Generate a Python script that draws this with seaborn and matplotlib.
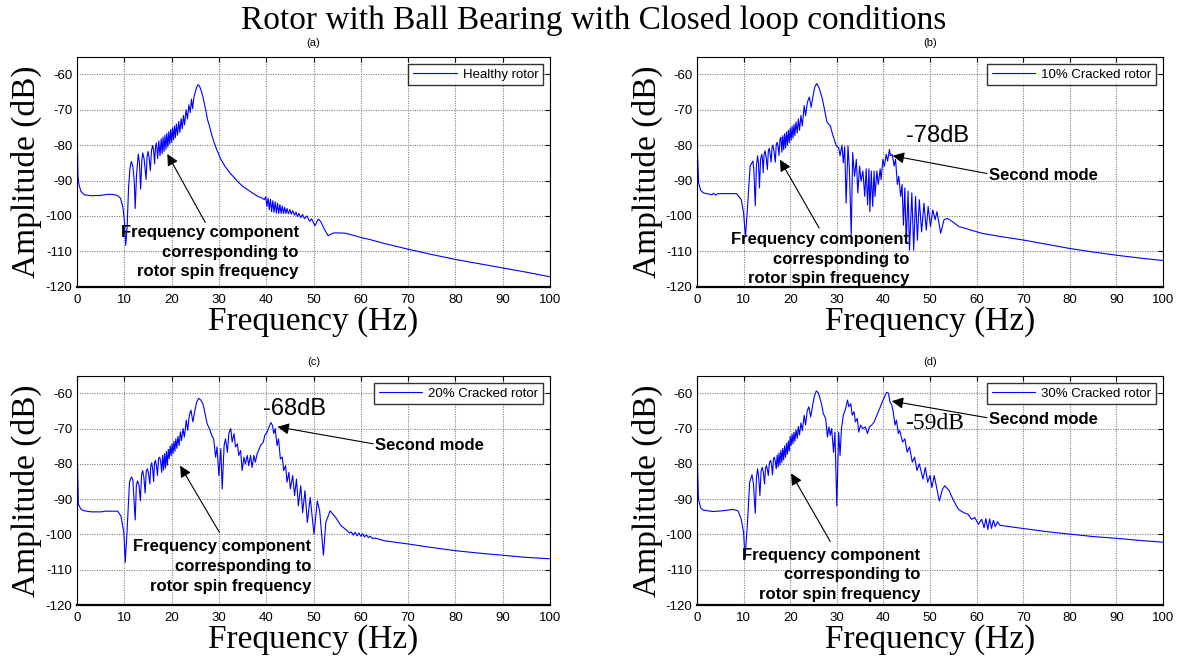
import matplotlib
matplotlib.use("Agg")
import matplotlib.pyplot as plt
import seaborn as sns
import pandas as pd

# ---------------------------------------------------------------
# Spectra (frequency in Hz, amplitude in dB) for each rotor state
# ---------------------------------------------------------------
healthy_rotor = [
    (0.0, -54.0), (0.08, -80.0), (0.2, -88.5), (0.4, -91.0), (0.8, -93.0), (1.5, -94.0),
    (3.0, -94.3), (5.0, -94.2), (6.5, -93.9), (7.5, -93.9), (8.5, -94.2), (9.2, -95.0),
    (9.7, -97.5), (10.0, -101.0), (10.3, -108.3), (10.6, -103.0), (10.9, -92.0), (11.2, -86.5),
    (11.5, -84.6), (11.8, -86.0), (12.1, -90.0), (12.3, -97.9), (12.6, -88.0), (12.96, -82.5),
    (13.2, -85.0), (13.45, -92.4), (13.7, -84.5), (13.9, -82.2), (14.2, -84.0), (14.6, -89.7),
    (14.8, -83.5), (15.0, -81.8), (15.25, -83.5), (15.5, -87.2), (15.75, -81.5), (16.0, -80.1),
    (16.2, -81.5), (16.4, -85.3), (16.6, -80.3), (16.8, -79.4), (17.05, -83.8), (17.3, -78.8),
    (17.55, -83.0), (17.8, -78.2), (18.0, -82.4), (18.2, -77.7), (18.4, -81.8), (18.6, -77.2),
    (18.8, -81.2), (19.0, -76.7), (19.2, -80.5), (19.4, -76.2), (19.6, -79.8), (19.8, -75.6),
    (20.0, -79.2), (20.2, -75.1), (20.4, -78.5), (20.6, -74.6), (20.8, -77.9), (21.0, -74.0),
    (21.25, -77.2), (21.5, -73.3), (21.75, -76.4), (22.0, -72.5), (22.25, -75.4), (22.5, -71.6),
    (22.75, -74.3), (23.05, -70.0), (23.35, -72.6), (23.65, -68.6), (23.95, -70.8), (24.2, -67.0),
    (24.45, -69.7), (24.7, -66.5), (25.0, -65.0), (25.3, -63.6), (25.6, -62.9), (25.9, -63.3),
    (26.3, -64.8), (26.7, -66.8), (27.2, -70.0), (27.6, -72.8), (28.0, -74.6), (28.5, -77.2),
    (29.0, -79.3), (29.7, -81.8), (30.5, -84.2), (31.4, -86.2), (32.3, -87.8), (33.2, -89.1),
    (34.2, -90.6), (35.2, -91.8), (36.3, -92.8), (37.3, -93.7), (38.3, -94.5), (39.2, -95.0),
    (39.6, -95.4), (39.9, -94.6), (40.15, -97.3), (40.4, -95.0), (40.65, -98.3), (40.9, -95.3),
    (41.15, -98.8), (41.4, -95.7), (41.65, -99.0), (41.9, -96.0), (42.15, -99.2), (42.4, -96.4),
    (42.65, -99.3), (42.9, -96.8), (43.15, -99.3), (43.4, -97.2), (43.65, -99.3), (43.9, -97.6),
    (44.15, -99.3), (44.4, -97.9), (44.7, -99.4), (45.0, -98.2), (45.3, -99.5), (45.6, -98.5),
    (46.0, -99.8), (46.3, -98.9), (46.6, -100.2), (46.9, -99.3), (47.3, -100.5), (47.7, -99.6),
    (48.1, -100.8), (48.6, -100.0), (49.2, -101.5), (49.6, -100.8), (50.3, -102.8), (51.0, -100.9),
    (51.5, -101.5), (52.2, -103.5), (53.1, -105.6), (53.6, -105.2), (54.3, -104.8), (55.5, -104.8),
    (56.8, -104.9), (58.5, -105.5), (60.0, -106.1), (61.7, -106.6), (65.0, -107.8), (70.0, -109.4),
    (75.0, -110.9), (80.0, -112.3), (85.0, -113.5), (90.0, -114.7), (95.0, -115.9), (100.0, -117.2),
]

cracked_10 = [
    (0.0, -54.0), (0.1, -82.0), (0.35, -90.7), (0.8, -92.8), (1.4, -93.5), (2.5, -93.8),
    (3.2, -94.0), (3.6, -93.6), (4.0, -94.1), (4.5, -93.7), (6.0, -93.7), (8.5, -93.7),
    (9.5, -95.4), (10.0, -99.2), (10.4, -105.9), (10.9, -96.4), (11.4, -85.9), (12.0, -84.5),
    (12.2, -87.0), (12.5, -97.1), (12.75, -86.0), (13.0, -83.0), (13.2, -85.0), (13.4, -92.1),
    (13.65, -84.0), (13.9, -82.6), (14.05, -84.0), (14.2, -87.8), (14.4, -82.5), (14.6, -81.6),
    (14.85, -83.5), (15.1, -86.9), (15.3, -81.8), (15.5, -80.9), (15.7, -82.5), (15.9, -84.8),
    (16.1, -80.8), (16.3, -80.0), (16.55, -82.0), (16.8, -84.8), (17.0, -79.9), (17.2, -79.2),
    (17.4, -80.5), (17.6, -82.9), (17.8, -78.4), (18.0, -77.8), (18.2, -82.0), (18.4, -77.3),
    (18.6, -81.3), (18.8, -76.8), (19.0, -80.8), (19.2, -76.3), (19.4, -80.0), (19.6, -75.8),
    (19.8, -79.3), (20.0, -75.2), (20.2, -78.6), (20.4, -74.7), (20.6, -78.0), (20.8, -74.1),
    (21.0, -77.3), (21.25, -73.4), (21.5, -76.6), (21.75, -72.6), (22.0, -75.8), (22.3, -71.6),
    (22.6, -74.6), (23.0, -68.8), (23.3, -71.7), (23.7, -67.8), (24.1, -66.4), (24.5, -69.3),
    (24.9, -66.0), (25.3, -63.5), (25.7, -62.6), (26.2, -63.8), (26.9, -66.9), (27.4, -70.2),
    (27.9, -73.5), (28.3, -74.2), (28.6, -74.5), (29.0, -76.5), (29.3, -77.8), (29.9, -80.2),
    (30.4, -80.7), (30.7, -83.0), (31.1, -80.0), (31.4, -85.0), (31.7, -80.4), (32.0, -96.4),
    (32.4, -80.2), (32.7, -86.9), (33.1, -105.4), (33.4, -82.1), (33.8, -88.8), (34.2, -84.0),
    (34.5, -93.5), (34.9, -85.9), (35.2, -90.2), (35.6, -87.3), (36.0, -94.5), (36.3, -86.7),
    (36.6, -96.9), (36.9, -86.7), (37.1, -98.8), (37.4, -87.3), (37.7, -97.3), (38.0, -87.3),
    (38.2, -94.5), (38.6, -87.3), (38.9, -91.1), (39.3, -86.7), (39.5, -89.7), (39.9, -84.0),
    (40.2, -86.0), (40.6, -82.6), (40.9, -84.5), (41.3, -81.2), (41.5, -83.0), (41.9, -82.6),
    (42.3, -85.9), (42.6, -84.0), (43.0, -91.1), (43.3, -88.8), (43.7, -94.5), (44.0, -91.1),
    (44.3, -102.6), (44.6, -92.1), (44.9, -107.8), (45.3, -93.0), (45.6, -109.7), (46.1, -93.5),
    (46.5, -109.7), (46.9, -94.5), (47.3, -106.9), (47.7, -95.4), (48.2, -104.5), (48.7, -96.4),
    (49.2, -104.0), (49.6, -97.3), (50.1, -103.0), (50.6, -98.3), (51.1, -101.1), (51.5, -98.8),
    (52.3, -104.9), (53.0, -101.1), (53.7, -100.7), (54.8, -101.6), (56.2, -103.0), (58.3, -103.8),
    (61.1, -104.9), (65.0, -105.8), (70.0, -106.8), (75.0, -108.0), (80.0, -109.2), (85.0, -110.2),
    (90.0, -111.1), (95.0, -111.9), (100.0, -112.6),
]

cracked_20 = [
    (0.0, -54.0), (0.1, -80.0), (0.3, -91.4), (0.8, -92.8), (1.5, -93.3), (3.0, -93.6),
    (5.1, -93.6), (6.0, -93.4), (8.6, -93.4), (9.3, -94.8), (9.9, -99.5), (10.2, -107.9),
    (10.6, -98.6), (11.1, -85.2), (11.5, -83.7), (11.8, -84.5), (12.3, -95.9), (12.55, -86.0),
    (12.8, -84.8), (13.1, -86.0), (13.4, -90.5), (13.65, -83.0), (13.9, -81.9), (14.15, -84.0),
    (14.4, -88.3), (14.65, -82.0), (14.9, -81.4), (15.15, -83.0), (15.4, -85.7), (15.6, -80.5),
    (15.8, -79.7), (16.0, -81.5), (16.2, -85.0), (16.4, -79.6), (16.6, -79.0), (16.8, -80.5),
    (17.0, -83.3), (17.25, -78.4), (17.5, -78.1), (17.7, -79.5), (17.9, -82.4), (18.1, -77.6),
    (18.3, -81.8), (18.5, -77.1), (18.7, -81.2), (18.9, -76.5), (19.1, -80.4), (19.3, -75.9),
    (19.5, -78.5), (19.7, -74.9), (19.9, -77.7), (20.1, -74.3), (20.3, -77.1), (20.5, -73.6),
    (20.7, -76.4), (20.9, -72.9), (21.1, -75.6), (21.35, -72.2), (21.6, -74.8), (21.85, -70.9),
    (22.1, -73.4), (22.4, -70.0), (22.7, -72.4), (23.1, -67.6), (23.4, -70.5), (23.75, -66.2),
    (24.1, -64.8), (24.5, -68.1), (24.9, -65.0), (25.3, -62.5), (25.7, -61.4), (26.1, -61.8),
    (26.6, -62.9), (27.0, -65.2), (27.5, -68.6), (28.0, -70.0), (28.5, -72.0), (28.9, -72.9),
    (29.3, -78.1), (29.6, -75.2), (30.0, -83.3), (30.4, -75.7), (30.7, -87.1), (31.1, -74.8),
    (31.4, -72.9), (31.8, -76.7), (32.1, -71.4), (32.5, -70.0), (32.8, -73.8), (33.2, -71.4),
    (33.5, -75.2), (33.9, -74.3), (34.2, -77.6), (34.6, -76.2), (34.9, -81.9), (35.3, -78.1),
    (35.6, -80.0), (36.0, -77.6), (36.3, -80.5), (36.7, -77.6), (37.0, -81.0), (37.4, -77.6),
    (37.7, -79.5), (38.1, -77.1), (38.8, -74.8), (39.4, -73.8), (39.7, -71.9), (40.2, -71.0),
    (40.6, -69.5), (41.0, -68.3), (41.3, -69.0), (41.6, -71.4), (41.9, -70.0), (42.3, -74.8),
    (42.6, -72.9), (43.0, -78.6), (43.4, -78.1), (43.7, -81.9), (44.1, -80.5), (44.4, -85.2),
    (44.8, -82.4), (45.1, -87.1), (45.6, -83.3), (46.0, -89.0), (46.4, -84.3), (46.8, -91.9),
    (47.3, -86.2), (47.7, -93.8), (48.2, -87.6), (48.7, -96.6), (49.3, -89.5), (50.1, -99.9),
    (50.8, -90.5), (51.3, -93.3), (52.1, -105.9), (52.6, -96.6), (53.5, -93.3), (54.7, -95.2),
    (55.8, -97.5), (57.2, -99.0), (57.6, -99.6), (58.0, -99.3), (58.4, -100.2), (58.8, -99.4),
    (59.2, -100.4), (59.6, -99.6), (60.0, -100.5), (60.4, -99.8), (60.8, -100.7), (61.2, -100.1),
    (61.6, -100.9), (62.0, -100.5), (62.5, -101.2), (63.0, -101.0), (65.0, -101.8), (70.0, -102.7),
    (75.0, -103.7), (80.0, -104.6), (85.0, -105.3), (90.0, -105.9), (95.0, -106.5), (100.0, -106.9),
]

cracked_30 = [
    (0.0, -54.0), (0.1, -80.0), (0.3, -90.0), (0.8, -92.5), (1.3, -93.1), (3.4, -93.5),
    (5.5, -93.3), (7.7, -92.9), (8.8, -93.3), (9.5, -95.7), (10.0, -99.5), (10.3, -106.7),
    (10.8, -97.5), (11.3, -85.2), (11.8, -83.1), (12.1, -85.5), (12.5, -94.0), (12.75, -84.0),
    (13.0, -81.4), (13.25, -84.0), (13.5, -89.0), (13.75, -82.0), (14.0, -81.0), (14.25, -82.5),
    (14.5, -85.7), (14.7, -81.2), (14.9, -80.5), (15.1, -81.5), (15.3, -83.3), (15.55, -79.6),
    (15.8, -79.0), (16.0, -80.3), (16.2, -83.1), (16.4, -78.6), (16.6, -78.1), (16.8, -79.3),
    (17.0, -81.4), (17.2, -77.5), (17.4, -80.9), (17.6, -76.9), (17.8, -80.3), (18.0, -76.2),
    (18.2, -79.6), (18.4, -75.6), (18.6, -78.9), (18.8, -74.9), (19.0, -78.1), (19.2, -74.2),
    (19.4, -77.3), (19.6, -73.5), (19.8, -76.4), (20.0, -72.2), (20.2, -74.8), (20.4, -71.6),
    (20.6, -74.3), (20.8, -71.0), (21.0, -73.6), (21.25, -70.3), (21.5, -72.8), (21.75, -69.4),
    (22.0, -71.8), (22.3, -68.4), (22.6, -70.6), (23.0, -66.2), (23.3, -69.0), (23.65, -65.0),
    (24.0, -63.8), (24.4, -66.7), (24.8, -63.5), (25.2, -60.8), (25.6, -59.3), (26.0, -59.8),
    (26.4, -61.4), (26.8, -63.5), (27.1, -65.7), (27.6, -67.1), (28.0, -72.4), (28.3, -69.5),
    (28.6, -71.9), (28.9, -70.0), (29.3, -76.7), (29.6, -71.0), (30.0, -91.9), (30.4, -71.0),
    (30.7, -77.6), (31.0, -70.0), (31.4, -66.2), (31.9, -64.3), (32.3, -61.9), (32.6, -63.8),
    (33.0, -62.9), (33.3, -66.2), (33.7, -65.2), (34.0, -68.1), (34.4, -67.1), (34.7, -71.0),
    (35.1, -69.0), (35.6, -70.0), (36.1, -69.5), (36.6, -71.4), (37.0, -69.5), (37.5, -69.0),
    (38.0, -68.1), (38.6, -66.2), (39.2, -64.3), (39.6, -62.9), (40.1, -61.4), (40.7, -59.7),
    (41.1, -60.0), (41.4, -62.4), (41.8, -63.3), (42.1, -65.2), (42.5, -69.0), (42.8, -67.6),
    (43.2, -71.4), (43.5, -70.5), (44.1, -73.8), (44.6, -72.9), (45.1, -76.7), (45.6, -75.2),
    (46.2, -79.5), (46.7, -78.1), (47.2, -81.9), (47.7, -80.0), (48.5, -84.3), (49.0, -81.0),
    (49.5, -85.2), (50.0, -83.3), (50.4, -86.7), (50.9, -83.3), (52.0, -90.5), (52.7, -87.1),
    (53.2, -86.2), (54.1, -87.6), (55.1, -90.5), (56.1, -92.9), (57.2, -93.8), (58.2, -94.3),
    (58.9, -95.7), (59.6, -95.2), (60.4, -97.1), (61.1, -95.7), (61.6, -98.1), (62.0, -95.5),
    (62.4, -98.6), (62.8, -95.6), (63.2, -98.3), (63.6, -96.0), (64.0, -97.8), (64.5, -96.4),
    (65.0, -97.4), (66.0, -97.6), (70.0, -98.3), (75.0, -99.2), (80.0, -99.9), (85.0, -100.6),
    (90.0, -101.1), (95.0, -101.7), (100.0, -102.2),
]

panel_tags = ["(a)", "(b)", "(c)", "(d)"]
legend_labels = ["Healthy rotor", "10% Cracked rotor", "20% Cracked rotor", "30% Cracked rotor"]
series = [healthy_rotor, cracked_10, cracked_20, cracked_30]

freq_ticks = [0, 10, 20, 30, 40, 50, 60, 70, 80, 90, 100]
amp_ticks = [-120, -110, -100, -90, -80, -70, -60]

# second-mode peak levels written on panels (b)-(d)
second_mode_db = [None, "-78dB", "-68dB", "-59dB"]

spin_text = "Frequency component\ncorresponding to\nrotor spin frequency"

# ---------------------------------------------------------------
sns.set_theme(style="white")
plt.rcParams["font.family"] = ["Liberation Sans", "DejaVu Sans"]
plt.rcParams["axes.unicode_minus"] = False
for key in ("text.color", "axes.labelcolor", "xtick.color", "ytick.color",
            "axes.edgecolor"):
    plt.rcParams[key] = "black"

W, H = 1188, 664
fig = plt.figure(figsize=(W / 100, H / 100), dpi=100)
fig.patch.set_facecolor("white")

# axes boxes in pixels: left, top, width, height
boxes = [
    (77, 56.7, 473, 230.0),
    (697, 56.7, 466, 230.0),
    (77, 375.7, 473, 229.3),
    (697, 375.7, 466, 229.3),
]

# annotation layout per panel (data coordinates)
spin_layout = [
    dict(text_xy=(46.9, -102.6), tail=(27.1, -101.8), head=(19.1, -82.5)),
    dict(text_xy=(45.5, -104.6), tail=(26.2, -103.4), head=(17.8, -84.1)),
    dict(text_xy=(49.6, -101.4), tail=(30.1, -99.4), head=(21.8, -80.5)),
    dict(text_xy=(47.9, -103.8), tail=(28.6, -102.0), head=(20.2, -82.7)),
]
mode_layout = [
    None,
    dict(label_xy=(62.7, -88.5), head=(42.0, -83.0), db_xy=(44.8, -77.3), serif=False),
    dict(label_xy=(63.1, -74.8), head=(42.4, -69.5), db_xy=(39.3, -64.4), serif=False),
    dict(label_xy=(62.7, -67.4), head=(41.8, -62.2), db_xy=(44.6, -68.5), serif=True),
]

arrow_kw = dict(arrowstyle="-|>", color="black", lw=0.8, mutation_scale=17,
                shrinkA=0, shrinkB=0)

for i, (pts, tag, lab) in enumerate(zip(series, panel_tags, legend_labels)):
    l, t, w, h = boxes[i]
    ax = fig.add_axes([l / W, 1 - (t + h) / H, w / W, h / H])
    df = pd.DataFrame(pts, columns=["Frequency", "Amplitude"])
    sns.lineplot(data=df, x="Frequency", y="Amplitude", ax=ax, color="#0000ff",
                 lw=0.8, sort=False, estimator=None, label=lab)

    ax.set_xlim(0, 100)
    ax.set_ylim(-120, -55)
    ax.set_xticks(freq_ticks)
    ax.set_yticks(amp_ticks)
    ax.set_xticklabels([str(v) for v in freq_ticks])
    ax.set_yticklabels([str(v) for v in amp_ticks])
    ax.tick_params(direction="in", length=3.5, width=0.8, top=True, right=True,
                   labelsize=9.5, colors="black")
    ax.tick_params(axis="x", pad=5)
    ax.tick_params(axis="y", pad=3.5)
    ax.grid(True, color="#808080", linestyle=(0, (1, 1.2)), lw=0.8)
    for side, sp in ax.spines.items():
        sp.set_color("black")
        sp.set_linewidth(1.6 if side == "bottom" else 0.8)
        sp.set_visible(True)

    ax.set_xlabel("Frequency (Hz)", family="Liberation Serif", fontsize=24, color="black")
    ax.set_ylabel("Amplitude (dB)", family="Liberation Serif", fontsize=24, color="black")
    ax.xaxis.set_label_coords(0.5, -0.084)
    ax.yaxis.set_label_coords(-0.073, 0.5)
    ax.set_title(tag, fontsize=8, pad=7.5, color="black")

    leg = ax.legend(loc="upper right", fontsize=9.5, frameon=True, fancybox=False,
                    edgecolor="black", borderpad=0.35, handlelength=3.3,
                    handletextpad=0.45, borderaxespad=0.55)
    leg.get_frame().set_linewidth(1.0)
    leg.get_frame().set_facecolor("white")
    for txt in leg.get_texts():
        txt.set_color("black")

    sl = spin_layout[i]
    ax.text(sl["text_xy"][0], sl["text_xy"][1], spin_text, ha="right", va="top",
            multialignment="right", fontsize=12, fontweight="bold", linespacing=1.38,
            color="black")
    ax.annotate("", xy=sl["head"], xytext=sl["tail"], arrowprops=arrow_kw)

    ml = mode_layout[i]
    if ml is not None:
        ax.text(ml["label_xy"][0], ml["label_xy"][1], "Second mode", ha="left",
                va="center", fontsize=12, fontweight="bold", color="black")
        ax.annotate("", xy=ml["head"], xytext=(ml["label_xy"][0] - 0.5, ml["label_xy"][1] + 0.5),
                    arrowprops=arrow_kw)
        if ml["serif"]:
            ax.text(ml["db_xy"][0], ml["db_xy"][1], second_mode_db[i], ha="left",
                    va="center", fontsize=17, family="Liberation Serif", color="black")
        else:
            ax.text(ml["db_xy"][0], ml["db_xy"][1], second_mode_db[i], ha="left",
                    va="center", fontsize=17, color="black")

fig.text(0.5, 1 - 20 / H, "Rotor with Ball Bearing with Closed loop conditions",
         ha="center", va="center", fontsize=24, family="Liberation Serif", color="black")

fig.savefig("out.png", dpi=100, facecolor="white")
